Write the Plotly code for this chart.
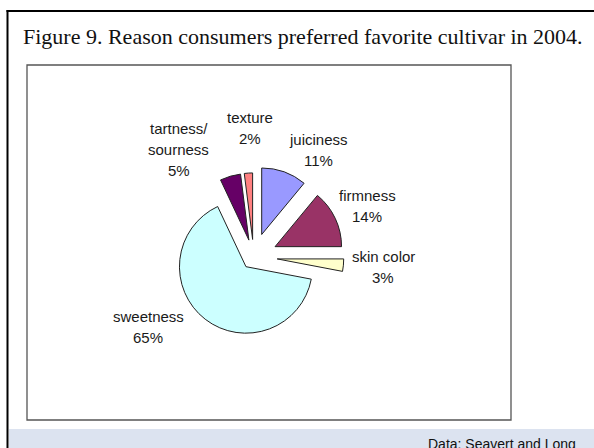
import plotly.graph_objects as go

# ---- data ----
categories = ["juiciness", "firmness", "skin color", "sweetness", "tartness/\nsourness", "texture"]
percent = [11, 14, 3, 65, 5, 2]
colors = ["#9999FF", "#993366", "#FFFFCC", "#CCFFFF", "#660066", "#FF8080"]
title_text = "Figure 9. Reason consumers preferred favorite cultivar in 2004."
source_text = "Data: Seavert and Long"

# ---- layout helpers (pixels -> paper) ----
W, H = 594, 448
def px(x):
    return x / W
def py(y):
    return 1 - y / H

pulls = [0.355, 0.355, 0.355, 0.19, 0.26, 0.26]
r = 66.5
cx, cy = 253.7, 256.7
half = r * (1 + max(pulls))

fig = go.Figure()
fig.add_trace(go.Pie(
    labels=[c.replace("\n", " ") for c in categories],
    values=percent,
    sort=False,
    direction="clockwise",
    rotation=0,
    pull=pulls,
    marker=dict(colors=colors, line=dict(color="#222222", width=1)),
    textinfo="none",
    hoverinfo="label+percent",
    showlegend=False,
    domain=dict(x=[px(cx - half), px(cx + half)], y=[py(cy + half), py(cy - half)]),
))

# label positions (pixel centre of first line), line spacing
label_pos = [(318.5, 139), (367, 195), (383, 256), (148, 316), (178.5, 128), (250, 117)]
spacing = 21
annotations = []
for cat, val, (lx, ly) in zip(categories, percent, label_pos):
    lines = cat.split("\n") + [f"{val}%"]
    for i, t in enumerate(lines):
        annotations.append(dict(
            x=px(lx), y=py(ly + i * spacing), xref="paper", yref="paper",
            text=t, showarrow=False, xanchor="center", yanchor="middle",
            font=dict(family="Liberation Sans, Arial", size=15, color="#1a1a1a"),
        ))

annotations.append(dict(
    x=px(20.5), y=py(36.5), xref="paper", yref="paper", text=title_text,
    showarrow=False, xanchor="left", yanchor="middle",
    font=dict(family="Liberation Serif, Times New Roman", size=22, color="#111111"),
))
annotations.append(dict(
    x=px(578), y=py(444), xref="paper", yref="paper", text=source_text,
    showarrow=False, xanchor="right", yanchor="middle",
    font=dict(family="Liberation Sans, Arial", size=14, color="#111111"),
))

shapes = [
    # bottom light-blue strip
    dict(type="rect", xref="paper", yref="paper", x0=px(9), x1=px(594), y0=py(448), y1=py(429),
         fillcolor="#DCE3F0", line=dict(width=0), layer="below"),
    # inner chart box
    dict(type="rect", xref="paper", yref="paper", x0=px(27), x1=px(511), y0=py(420), y1=py(65),
         fillcolor="rgba(0,0,0,0)", line=dict(color="#555555", width=1.3), layer="below"),
    # outer frame: left and top
    dict(type="line", xref="paper", yref="paper", x0=px(7.5), x1=px(7.5), y0=py(10), y1=py(448),
         line=dict(color="black", width=2)),
    dict(type="line", xref="paper", yref="paper", x0=px(6.5), x1=px(594), y0=py(11), y1=py(11),
         line=dict(color="black", width=2)),
]

fig.update_layout(
    width=W, height=H, autosize=False,
    margin=dict(l=0, r=0, t=0, b=0),
    paper_bgcolor="white", plot_bgcolor="white",
    annotations=annotations, shapes=shapes,
)

fig.write_html("out.html", post_script="document.body.style.margin='0';", config={"displayModeBar": False})
